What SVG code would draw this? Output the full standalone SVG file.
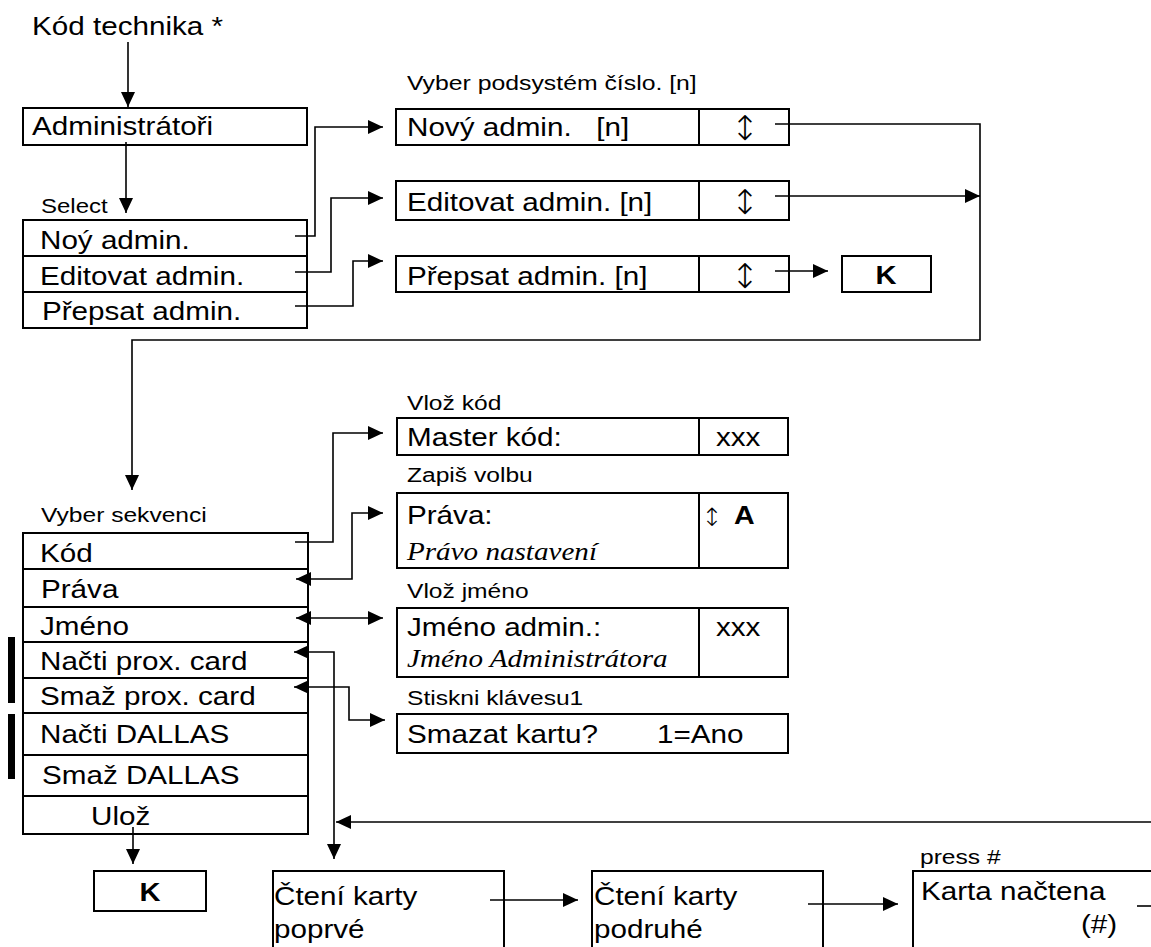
<svg xmlns="http://www.w3.org/2000/svg" width="1151" height="947" viewBox="0 0 1151 947">
<style>
.bg{fill:#fff}
.box{fill:#fff;stroke:#000;stroke-width:2}
.div{stroke:#000;stroke-width:2;fill:none}
.t{font-family:"Liberation Sans",Arial,sans-serif;font-size:26px;fill:#000;white-space:pre}
.s{font-family:"Liberation Sans",Arial,sans-serif;font-size:20px;fill:#000}
.b{font-family:"Liberation Sans",Arial,sans-serif;font-size:26px;font-weight:bold;fill:#000}
.i{font-family:"Liberation Serif","Times New Roman",serif;font-size:26px;font-style:italic;fill:#000}
.ar{font-family:"DejaVu Sans",sans-serif;font-weight:200;fill:#000}
.c{fill:none;stroke:#000;stroke-width:1.6}
.bar{fill:#000}
</style>
<defs>
<marker id="ah" markerUnits="userSpaceOnUse" markerWidth="15" markerHeight="14" refX="15" refY="7" orient="auto-start-reverse" viewBox="0 0 15 14">
<path d="M0,0 L15,7 L0,14 z" fill="#000"/>
</marker>
</defs>
<rect class="bg" x="0" y="0" width="1151" height="947"/>

<g id="start">
<text class="t" transform="translate(32,35) scale(1.14,1)">Kód technika *</text>
</g>

<g id="administratori">
<rect class="box" x="23" y="108" width="284" height="37"/>
<text class="t" transform="translate(32,135) scale(1.14,1)">Administrátoři</text>
</g>

<g id="select-menu">
<text class="s" transform="translate(41,213) scale(1.2,1)">Select</text>
<rect class="box" x="23" y="220" width="284" height="108"/>
<line class="div" x1="23" y1="256" x2="307" y2="256"/>
<line class="div" x1="23" y1="292" x2="307" y2="292"/>
<text class="t" transform="translate(40,249) scale(1.14,1)">Noý admin.</text>
<text class="t" transform="translate(40,285) scale(1.14,1)">Editovat admin.</text>
<text class="t" transform="translate(42,320) scale(1.14,1)">Přepsat admin.</text>
</g>

<g id="podsystem-label">
<text class="s" transform="translate(407,90) scale(1.24,1)">Vyber podsystém číslo. [n]</text>
</g>

<g id="novy-admin">
<rect class="box" x="396" y="109" width="393" height="36"/>
<line class="div" x1="699" y1="109" x2="699" y2="145"/>
<text class="t" transform="translate(407,136) scale(1.14,1)">Nový admin.   [n]</text>
<text class="ar" x="745" y="140" font-size="34" text-anchor="middle">↕</text>
</g>

<g id="editovat-admin">
<rect class="box" x="396" y="181" width="393" height="39"/>
<line class="div" x1="699" y1="181" x2="699" y2="220"/>
<text class="t" transform="translate(407,211) scale(1.14,1)">Editovat admin. [n]</text>
<text class="ar" x="745" y="214" font-size="34" text-anchor="middle">↕</text>
</g>

<g id="prepsat-admin">
<rect class="box" x="396" y="256" width="393" height="36"/>
<line class="div" x1="699" y1="256" x2="699" y2="292"/>
<text class="t" transform="translate(407,285) scale(1.14,1)">Přepsat admin. [n]</text>
<text class="ar" x="745" y="288" font-size="34" text-anchor="middle">↕</text>
</g>

<g id="k-top">
<rect class="box" x="842" y="256" width="89" height="36"/>
<text class="b" transform="translate(886,284) scale(1.12,1)" text-anchor="middle">K</text>
</g>

<g id="sekvence">
<text class="s" transform="translate(41,522) scale(1.23,1)">Vyber sekvenci</text>
<rect class="box" x="23" y="533" width="285" height="301"/>
<line class="div" x1="23" y1="569" x2="308" y2="569"/>
<line class="div" x1="23" y1="607" x2="308" y2="607"/>
<line class="div" x1="23" y1="642" x2="308" y2="642"/>
<line class="div" x1="23" y1="678" x2="308" y2="678"/>
<line class="div" x1="23" y1="713" x2="308" y2="713"/>
<line class="div" x1="23" y1="755" x2="308" y2="755"/>
<line class="div" x1="23" y1="796" x2="308" y2="796"/>
<text class="t" transform="translate(40,562) scale(1.14,1)">Kód</text>
<text class="t" transform="translate(41,598) scale(1.14,1)">Práva</text>
<text class="t" transform="translate(40,635) scale(1.14,1)">Jméno</text>
<text class="t" transform="translate(40,670) scale(1.14,1)">Načti prox. card</text>
<text class="t" transform="translate(40,705) scale(1.14,1)">Smaž prox. card</text>
<text class="t" transform="translate(40,743) scale(1.14,1)">Načti DALLAS</text>
<text class="t" transform="translate(42,784) scale(1.14,1)">Smaž DALLAS</text>
<text class="t" transform="translate(91,825) scale(1.14,1)">Ulož</text>
<rect class="bar" x="8" y="637" width="7" height="66"/>
<rect class="bar" x="8" y="714" width="7" height="65"/>
</g>

<g id="master-kod">
<text class="s" transform="translate(407,410) scale(1.23,1)">Vlož kód</text>
<rect class="box" x="397" y="418" width="391" height="37"/>
<line class="div" x1="699" y1="418" x2="699" y2="455"/>
<text class="t" transform="translate(407,446) scale(1.14,1)">Master kód:</text>
<text class="t" transform="translate(716,446) scale(1.14,1)">xxx</text>
</g>

<g id="prava">
<text class="s" transform="translate(407,482) scale(1.23,1)">Zapiš volbu</text>
<rect class="box" x="397" y="493" width="391" height="75"/>
<line class="div" x1="699" y1="493" x2="699" y2="568"/>
<text class="t" transform="translate(407,524) scale(1.14,1)">Práva:</text>
<text class="i" transform="translate(407,560) scale(1.12,1)">Právo nastavení</text>
<text class="ar" x="712" y="526" font-size="25" text-anchor="middle">↕</text>
<text class="b" transform="translate(734,524) scale(1.1,1)">A</text>
</g>

<g id="jmeno">
<text class="s" transform="translate(407,598) scale(1.23,1)">Vlož jméno</text>
<rect class="box" x="397" y="608" width="391" height="69"/>
<line class="div" x1="699" y1="608" x2="699" y2="677"/>
<text class="t" transform="translate(407,636) scale(1.14,1)">Jméno admin.:</text>
<text class="t" transform="translate(716,636) scale(1.14,1)">xxx</text>
<text class="i" transform="translate(407,667) scale(1.12,1)">Jméno Administrátora</text>
</g>

<g id="smazat">
<text class="s" transform="translate(407,705) scale(1.23,1)">Stiskni klávesu1</text>
<rect class="box" x="397" y="714" width="391" height="39"/>
<text class="t" transform="translate(407,743) scale(1.14,1)">Smazat kartu?</text>
<text class="t" transform="translate(657,743) scale(1.14,1)">1=Ano</text>
</g>

<g id="k-bottom">
<rect class="box" x="94" y="871" width="112" height="40"/>
<text class="b" transform="translate(150,901) scale(1.12,1)" text-anchor="middle">K</text>
</g>

<g id="cteni-1">
<rect class="box" x="273" y="871" width="231" height="90"/>
<text class="t" transform="translate(274,905) scale(1.14,1)">Čtení karty</text>
<text class="t" transform="translate(274,938) scale(1.14,1)">poprvé</text>
</g>

<g id="cteni-2">
<rect class="box" x="592" y="871" width="231" height="90"/>
<text class="t" transform="translate(594,905) scale(1.14,1)">Čtení karty</text>
<text class="t" transform="translate(594,938) scale(1.14,1)">podruhé</text>
</g>

<g id="karta-nactena">
<text class="s" transform="translate(920,864) scale(1.23,1)">press #</text>
<rect class="box" x="913" y="871" width="250" height="90"/>
<text class="t" transform="translate(921,900) scale(1.14,1)">Karta načtena</text>
<text class="t" transform="translate(1081,933) scale(1.14,1)">(#)</text>
</g>

<g id="connectors">
<path class="c" d="M128,42 V107" marker-end="url(#ah)"/>
<path class="c" d="M126,142 V213" marker-end="url(#ah)"/>
<path class="c" d="M295,236 H315 V127 H383" marker-end="url(#ah)"/>
<path class="c" d="M295,272 H331 V198 H383" marker-end="url(#ah)"/>
<path class="c" d="M295,306 H353 V261 H383" marker-end="url(#ah)"/>
<path class="c" d="M775,124 H980 V340 H132 V490" marker-end="url(#ah)"/>
<path class="c" d="M775,196 H980" marker-end="url(#ah)"/>
<path class="c" d="M775,271 H828" marker-end="url(#ah)"/>
<path class="c" d="M295,542 H333 V433 H383" marker-end="url(#ah)"/>
<path class="c" d="M296,579 H352 V513 H383" marker-start="url(#ah)" marker-end="url(#ah)"/>
<path class="c" d="M296,618 H383" marker-start="url(#ah)" marker-end="url(#ah)"/>
<path class="c" d="M294,652 H334 V859" marker-start="url(#ah)" marker-end="url(#ah)"/>
<path class="c" d="M294,687 H349 V720 H385" marker-start="url(#ah)" marker-end="url(#ah)"/>
<path class="c" d="M1151,822 H336" marker-end="url(#ah)"/>
<path class="c" d="M133,827 V864" marker-end="url(#ah)"/>
<path class="c" d="M490,900 H578" marker-end="url(#ah)"/>
<path class="c" d="M808,904 H898" marker-end="url(#ah)"/>
<path class="c" d="M1137,906 H1151"/>
</g>
</svg>
